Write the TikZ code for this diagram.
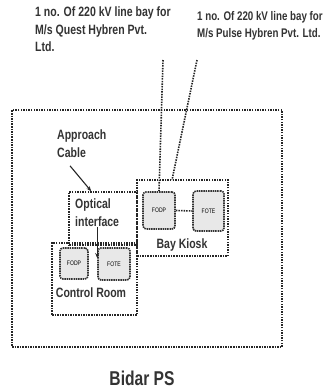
\documentclass[tikz,border=0pt]{standalone}
\usepackage{fontspec}
\setmainfont{Liberation Sans}[FakeStretch=0.78]
\usetikzlibrary{arrows.meta,positioning,calc}

\begin{document}
\begin{tikzpicture}[
    x=1pt, y=-1pt,
    dots/.style={
      line width=1.6pt,
      dash pattern=on 1.5pt off 1.1pt,
      color=black!85
    },
    area/.style={
      draw,
      dots,
      inner sep=0pt
    },
    unit/.style={
      draw=black!80,
      line width=1.6pt,
      dash pattern=on 1.5pt off 0.8pt,
      fill=gray!18,
      rounded corners=3pt,
      inner sep=0pt,
      font=\fontsize{6.5}{7}\selectfont
    },
    txt/.style={
      font=\fontsize{13.5}{17.5}\selectfont\bfseries,
      align=left,
      inner sep=0pt,
      text=black!80
    },
    >={Stealth[length=5pt,width=4pt]}
  ]
    \useasboundingbox (0,0) rectangle (334,391);

    \node[txt, anchor=north west] (quest) at (35,7)
      {1 no. Of 220 kV line bay for\\M/s Quest Hybren Pvt.\\Ltd.};
    \node[txt, anchor=north west, font=\fontsize{12.5}{17.5}\selectfont\bfseries] (pulse) at (197,11)
      {1 no. Of 220 kV line bay for\\M/s Pulse Hybren Pvt. Ltd.};

    \node[area, minimum width=270pt, minimum height=237pt] (bidar) at (147,228.5) {};

    \node[area, minimum width=68pt, minimum height=53pt] (optical) at (103,218.5) {};
    \node[area, minimum width=85pt, minimum height=72pt] (control) at (94.5,279) {};
    \node[area, minimum width=91pt, minimum height=76pt] (kiosk) at (182.5,218) {};

    \node[unit, minimum width=32pt, minimum height=37pt] (fodp) at (159,210.5) {FODP};
    \node[unit, minimum width=31pt, minimum height=40pt] (fote) at (208.5,211) {FOTE};
    \node[unit, minimum width=28pt, minimum height=31pt] (crfodp) at (74,263.5) {FODP};
    \node[unit, minimum width=32pt, minimum height=32pt] (crfote) at (114,264) {FOTE};

    \node[txt, anchor=north west] (approach) at (57,130) {Approach\\Cable};
    \node[txt, anchor=north west] (optlabel) at (75,199) {Optical\\interface};
    \node[txt] (crlabel) at (91,293) {Control Room};
    \node[txt] (kiosklabel) at (182,245) {Bay Kiosk};
    \node[txt, font=\fontsize{20}{22}\selectfont\bfseries] (pslabel) at (142,378) {Bidar PS};

    \coordinate (questin) at (163,60);
    \coordinate (pulsein) at (197,60);
    \coordinate (pulseend) at (172,180);

    \draw[dots] (questin) -- (fodp.north);
    \draw[dots] (pulsein) -- (pulseend);
    \draw[dots] (fodp.east) -- (fote.west);

    \draw[->, line width=1.1pt, black!85] ($(approach.south west)+(13,8)$) -- ($(optical.north west)+(23,0)$);
    \draw[->, line width=0.9pt, black!85] (optlabel.south -| crfote.west) -- ([yshift=6pt]crfote.west);
  \end{tikzpicture}
\end{document}
